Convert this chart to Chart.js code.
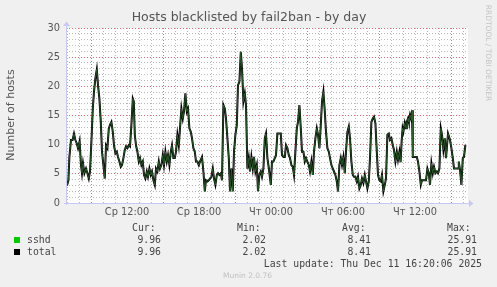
<!DOCTYPE html>
<html lang="ru">
<head>
<meta charset="UTF-8">
<title>Hosts blacklisted by fail2ban - by day</title>
<script src="https://cdn.jsdelivr.net/npm/chart.js@4"></script>
<style>
    html, body { margin: 0; padding: 0; background: #f0f0f0; }
    #grafico { display: block; }
</style>
</head>
<body>
<canvas id="grafico" width="497" height="287"></canvas>

<script>
    // time of each sample, minutes since Wed 00:00 (local)
    const minutes = [
        420, 427, 432, 440, 448, 455, 462, 469, 475, 483, 490, 495, 500, 507, 515, 522, 529, 535, 542, 549,
        555, 562, 569, 575, 582, 589, 595, 602, 609, 615, 622, 629, 635, 642, 649, 655, 662, 669, 675, 682,
        689, 695, 702, 709, 715, 722, 729, 735, 742, 749, 754, 759, 765, 772, 779, 785, 792, 799, 805, 812,
        819, 825, 832, 839, 845, 852, 859, 865, 872, 879, 885, 892, 899, 905, 912, 919, 925, 932, 939, 945,
        952, 959, 965, 972, 979, 985, 992, 999, 1005, 1012, 1019, 1025, 1032, 1039, 1045, 1052, 1059, 1065, 1072, 1079,
        1085, 1095, 1102, 1109, 1115, 1122, 1129, 1135, 1142, 1149, 1155, 1162, 1169, 1175, 1182, 1189, 1195, 1202, 1209, 1215,
        1222, 1229, 1235, 1242, 1249, 1255, 1262, 1269, 1275, 1282, 1289, 1295, 1302, 1309, 1315, 1322, 1329, 1335, 1342, 1349,
        1355, 1362, 1369, 1375, 1382, 1389, 1395, 1402, 1409, 1415, 1422, 1429, 1439, 1445, 1452, 1459, 1465, 1472, 1489, 1495,
        1502, 1509, 1515, 1522, 1529, 1535, 1542, 1549, 1555, 1562, 1569, 1575, 1582, 1589, 1595, 1602, 1609, 1615, 1622, 1629,
        1635, 1642, 1649, 1655, 1662, 1669, 1675, 1682, 1689, 1695, 1702, 1709, 1715, 1722, 1729, 1735, 1742, 1749, 1755, 1762,
        1769, 1775, 1782, 1789, 1795, 1802, 1809, 1815, 1822, 1829, 1835, 1842, 1849, 1855, 1862, 1869, 1875, 1882, 1889, 1895,
        1902, 1909, 1915, 1922, 1929, 1935, 1942, 1949, 1955, 1962, 1969, 1975, 1982, 1989, 1995, 2002, 2009, 2015, 2022, 2029,
        2035, 2042, 2049, 2055, 2062, 2069, 2075, 2082, 2088, 2093, 2098, 2102, 2109, 2115, 2119, 2125, 2129, 2135, 2142, 2145,
        2149, 2155, 2169, 2175, 2182, 2189, 2195, 2215, 2222, 2229, 2235, 2242, 2249, 2255, 2262, 2269, 2275, 2282, 2289, 2295,
        2302, 2309, 2315, 2325, 2335, 2342, 2349, 2355, 2375, 2379, 2385, 2392, 2399, 2405, 2412
    ];

    const sshd = [
        3.0, 3.9, 7.9, 10.8, 10.8, 11.9, 10.8, 10.2, 9.4, 10.6, 6.5, 5.1, 6.8, 5.1, 5.9, 5.1, 4.2, 5.4, 10.5, 16.2,
        19.1, 21.4, 22.9, 20.2, 17.9, 13.9, 8.8, 6.5, 4.2, 9.9, 9.4, 12.8, 13.4, 13.9, 12.2, 9.9, 8.5, 8.8, 7.9, 7.1,
        6.2, 6.5, 7.7, 9.1, 9.7, 9.4, 9.9, 9.7, 13.4, 17.9, 17.4, 11.7, 9.9, 8.8, 7.1, 7.7, 6.5, 7.1, 4.8, 4.2,
        5.4, 4.5, 5.9, 4.8, 5.4, 3.9, 3.1, 5.9, 5.4, 7.1, 5.9, 6.5, 8.2, 6.5, 8.8, 7.1, 8.2, 6.5, 8.8, 9.9,
        7.7, 7.7, 8.8, 11.7, 9.9, 12.8, 16.2, 14.5, 15.7, 18.8, 15.7, 16.2, 12.8, 12.2, 11.1, 9.4, 8.8, 7.1, 7.1, 6.5,
        7.1, 7.9, 5.4, 2.0, 3.9, 3.7, 3.9, 4.2, 4.5, 5.9, 4.2, 3.1, 4.8, 5.1, 4.8, 5.1, 3.9, 16.8, 16.2, 14.5,
        11.1, 7.7, 2.0, 5.9, 2.0, 8.8, 11.7, 13.4, 20.2, 20.8, 25.91, 23.1, 17.4, 18.8, 16.8, 5.9, 7.7, 5.4, 7.9, 5.9,
        7.9, 5.4, 6.5, 2.02, 4.8, 5.4, 4.5, 5.9, 11.1, 11.9, 7.7, 6.0, 3.1, 7.1, 7.1, 7.7, 8.2, 11.9, 11.9, 8.2,
        7.9, 7.9, 9.9, 9.4, 8.2, 7.7, 6.5, 6.2, 4.8, 8.8, 12.8, 13.9, 16.8, 12.8, 8.8, 8.8, 7.1, 7.7, 7.1, 6.5,
        5.4, 7.1, 4.8, 8.8, 11.1, 12.8, 11.7, 9.4, 13.4, 17.4, 19.1, 15.7, 12.2, 9.4, 8.8, 7.7, 6.5, 5.9, 5.4, 4.8,
        3.7, 2.0, 6.5, 7.7, 6.5, 7.9, 5.1, 8.8, 12.2, 13.1, 11.1, 7.1, 4.8, 4.5, 4.5, 3.7, 4.5, 2.5, 3.1, 4.2,
        3.4, 4.8, 3.7, 2.5, 3.7, 7.7, 13.9, 14.5, 14.8, 13.7, 8.8, 4.8, 3.9, 3.7, 4.8, 2.0, 3.1, 4.2, 11.7, 11.9,
        10.8, 11.1, 9.9, 9.1, 7.1, 8.8, 7.4, 8.8, 7.0, 10.5, 12.8, 12.2, 13.7, 12.8, 13.9, 14.5, 13.9, 15.1, 14.2, 15.9,
        7.9, 7.9, 7.9, 7.1, 5.4, 3.1, 3.9, 3.9, 5.9, 5.1, 3.1, 6.8, 5.1, 6.2, 5.1, 5.4, 5.1, 5.9, 12.8, 11.7,
        9.1, 11.1, 7.7, 11.9, 10.8, 9.4, 7.7, 5.9, 5.9, 7.1, 5.7, 3.1, 7.7, 7.9, 9.96
    ];

    // only one jail, so the total is the same as sshd
    const total = sshd.slice();

    // grid ticks: one per hour on x, one per host on y
    const xTickMinutes = [];
    for (let m = 420; m <= 2400; m += 60) xTickMinutes.push(m);
    const yTickValues = [];
    for (let v = 0; v <= 30; v++) yTickValues.push(v);

    const weekDays = ['Ср', 'Чт'];
    const legendHeads = ['Cur:', 'Min:', 'Avg:', 'Max:'];
    const sshdStats = ['9.96', '2.02', '8.41', '25.91'];
    const totalStats = ['9.96', '2.02', '8.41', '25.91'];
    const lastUpdate = 'Last update: Thu Dec 11 16:20:06 2025';

    const GRID = '#b8b8b8';
    const MGRID = '#e07070';
    const AXIS = '#c8c8f4';
    const TEXT = '#555555';

    function hhmm(m) {
        const day = Math.floor(m / 1440);
        const h = Math.floor((m % 1440) / 60);
        const mm = m % 60;
        return weekDays[day] + ' ' + String(h).padStart(2, '0') + ':' + String(mm).padStart(2, '0');
    }

    function xIsMajor(i) {
        const h = (xTickMinutes[i] / 60) % 24;
        return h % 6 === 3;
    }

    const fundoMunin = {
        id: 'fundoMunin',
        beforeDraw(chart) {
            const ctx = chart.ctx;
            const a = chart.chartArea;
            ctx.save();
            ctx.fillStyle = '#f0f0f0';
            ctx.fillRect(0, 0, chart.width, chart.height);
            ctx.fillStyle = '#ffffff';
            ctx.fillRect(a.left, a.top, a.right - a.left, a.bottom - a.top);
            ctx.restore();
        },
        afterDraw(chart) {
            const ctx = chart.ctx;
            const a = chart.chartArea;
            ctx.save();

            // axes with arrows
            ctx.strokeStyle = AXIS;
            ctx.fillStyle = AXIS;
            ctx.lineWidth = 1;
            ctx.beginPath();
            ctx.moveTo(a.left - 2, a.bottom + 0.5);
            ctx.lineTo(a.right + 2, a.bottom + 0.5);
            ctx.moveTo(a.left + 0.5, a.bottom + 2);
            ctx.lineTo(a.left + 0.5, a.top - 3);
            ctx.stroke();
            ctx.beginPath();
            ctx.moveTo(a.right + 1, a.bottom - 3);
            ctx.lineTo(a.right + 5.5, a.bottom + 0.5);
            ctx.lineTo(a.right + 1, a.bottom + 4);
            ctx.fill();
            ctx.beginPath();
            ctx.moveTo(a.left - 3, a.top - 2);
            ctx.lineTo(a.left + 0.5, a.top - 6.5);
            ctx.lineTo(a.left + 4, a.top - 2);
            ctx.fill();

            // title
            ctx.fillStyle = TEXT;
            ctx.textAlign = 'center';
            ctx.textBaseline = 'middle';
            ctx.font = '12.5px "DejaVu Sans"';
            ctx.fillText('Hosts blacklisted by fail2ban - by day', 249, 18);

            // vertical label
            ctx.save();
            ctx.translate(11, 115);
            ctx.rotate(-Math.PI / 2);
            ctx.font = '11px "DejaVu Sans"';
            ctx.fillText('Number of hosts', 0, 0);
            ctx.restore();

            // rrdtool watermark
            ctx.save();
            ctx.translate(487.5, 53);
            ctx.rotate(Math.PI / 2);
            ctx.fillStyle = '#c4c4c4';
            ctx.font = '7.5px "DejaVu Sans"';
            ctx.fillText('RRDTOOL / TOBI OETIKER', 0, 0);
            ctx.restore();

            // legend
            ctx.font = '9.8px "DejaVu Sans Mono"';
            ctx.fillStyle = '#444444';
            const headX = [132, 237, 342, 447];
            const valX = [161, 266, 371, 477];
            ctx.textAlign = 'left';
            legendHeads.forEach((t, i) => ctx.fillText(t, headX[i], 228));

            ctx.fillStyle = '#00cc00';
            ctx.fillRect(14, 237, 6, 6);
            ctx.fillStyle = '#000000';
            ctx.fillRect(14, 249, 6, 6);

            ctx.fillStyle = '#444444';
            ctx.fillText('sshd', 27, 240);
            ctx.fillText('total', 27, 252);
            ctx.textAlign = 'right';
            sshdStats.forEach((t, i) => ctx.fillText(t, valX[i], 240));
            totalStats.forEach((t, i) => ctx.fillText(t, valX[i], 252));
            ctx.fillText(lastUpdate, 482, 264);

            ctx.textAlign = 'center';
            ctx.fillStyle = '#c0c0c0';
            ctx.font = '7.5px "DejaVu Sans"';
            ctx.fillText('Munin 2.0.76', 247.5, 276);

            ctx.restore();
        }
    };

    const ctx = document.getElementById('grafico').getContext('2d');

    new Chart(ctx, {
        type: 'line',
        data: {
            datasets: [{
                label: 'sshd',
                data: minutes.map((m, i) => ({ x: m, y: sshd[i] })),
                borderColor: '#2f6a2f',
                borderWidth: 0.8,
                pointRadius: 0,
                tension: 0,
                order: 0
            }, {
                label: 'total',
                data: minutes.map((m, i) => ({ x: m, y: total[i] })),
                borderColor: '#000000',
                borderWidth: 2,
                pointRadius: 0,
                tension: 0,
                order: 1
            }]
        },
        options: {
            responsive: false,
            animation: false,
            layout: { padding: { left: 0, right: 29, top: 28, bottom: 0 } },
            plugins: {
                legend: { display: false },
                title: { display: false },
                tooltip: { enabled: false }
            },
            scales: {
                x: {
                    type: 'linear',
                    min: 415,
                    max: 2425,
                    afterFit: s => { s.height = 84; },
                    afterBuildTicks: s => { s.ticks = xTickMinutes.map(m => ({ value: m })); },
                    grid: {
                        drawTicks: false,
                        lineWidth: 1,
                        color: c => xIsMajor(c.index) ? MGRID : GRID
                    },
                    border: { display: false, dash: [1, 2] },
                    ticks: {
                        autoSkip: false,
                        maxRotation: 0,
                        padding: 4,
                        color: TEXT,
                        font: { family: 'DejaVu Sans', size: 9.8 },
                        callback: v => ((v / 60) % 6 === 0) ? hhmm(v) : ''
                    }
                },
                y: {
                    min: 0,
                    max: 30,
                    afterFit: s => { s.width = 66; },
                    afterBuildTicks: s => { s.ticks = yTickValues.map(v => ({ value: v })); },
                    grid: {
                        drawTicks: false,
                        lineWidth: 1,
                        color: c => (yTickValues[c.index] % 5 === 0) ? MGRID : GRID
                    },
                    border: { display: false, dash: [1, 2] },
                    ticks: {
                        autoSkip: false,
                        padding: 6,
                        color: TEXT,
                        font: { family: 'DejaVu Sans', size: 9.8 },
                        callback: v => (v % 5 === 0) ? String(v) : ''
                    }
                }
            }
        },
        plugins: [fundoMunin]
    });
</script>
</body>
</html>
